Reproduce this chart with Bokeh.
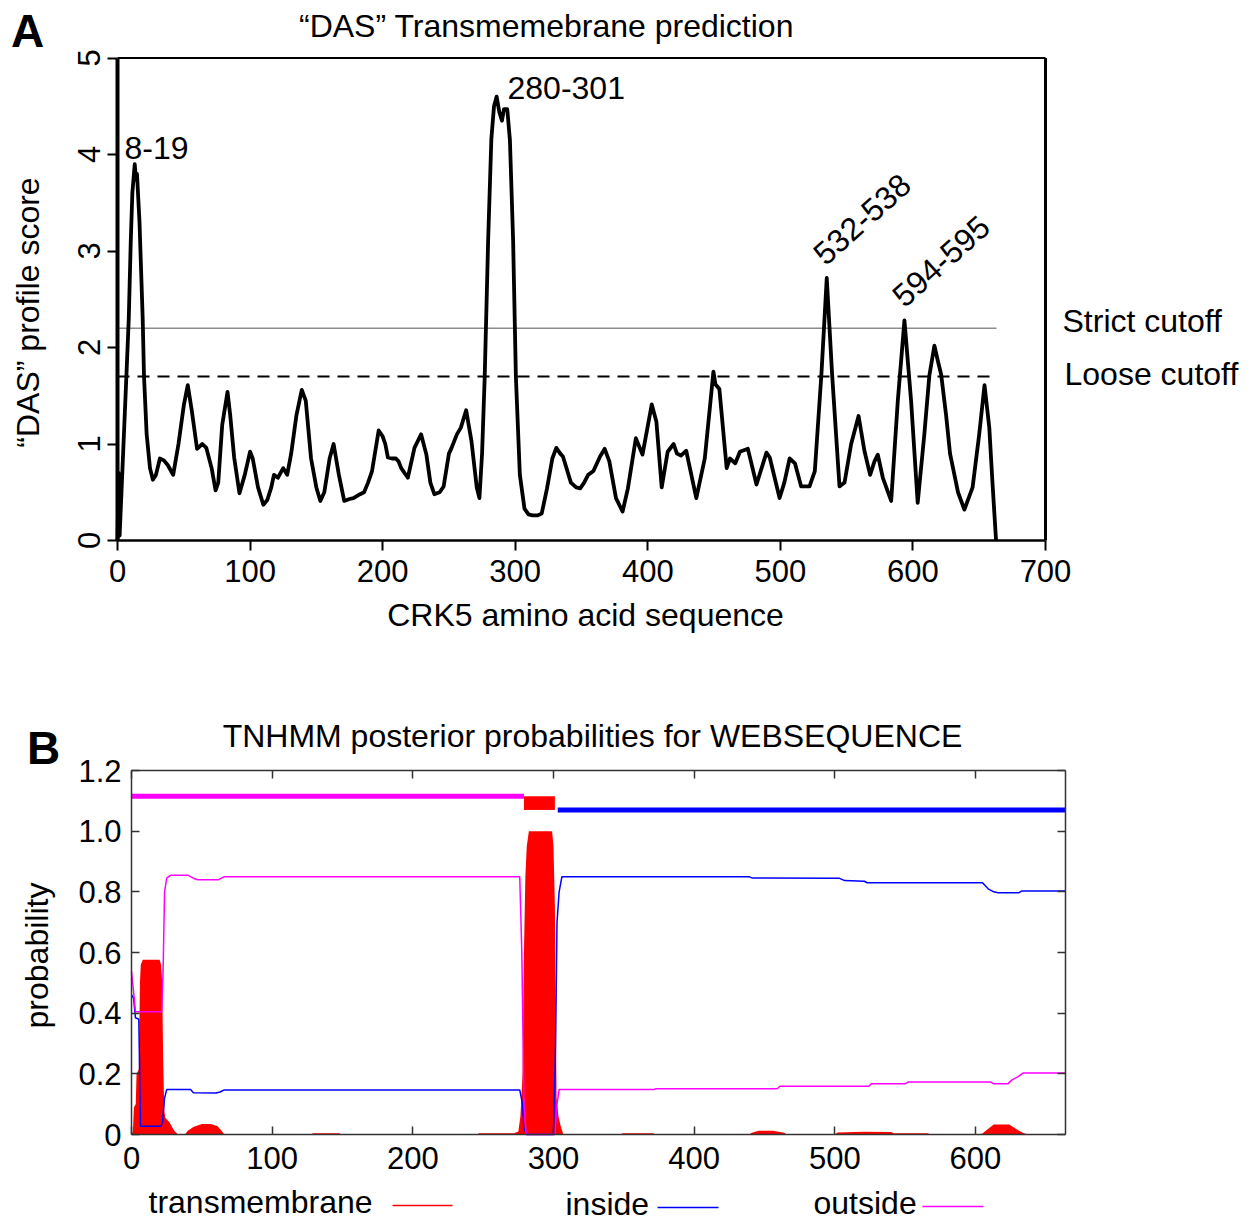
import math
from bokeh.plotting import figure
from bokeh.models import Range1d, LinearAxis, FixedTicker, Label, CustomJSTickFormatter
from bokeh.layouts import column
from bokeh.embed import file_html
from bokeh.resources import INLINE
from bokeh.core.properties import value

FONT = "Liberation Sans"
TXT = "32px"

# ---------------- Panel A data: DAS profile ----------------
das_pos = [0, 0.8, 1.6, 3, 5, 7, 8.5, 10, 11.2, 13, 13.9, 14.7, 16.6, 19, 20, 22, 24.5, 26.7,
           29, 32, 35, 38, 42, 46, 50, 53, 56, 60, 64, 67, 71, 74, 76, 79, 83, 85, 88, 92, 96,
           100, 102, 106, 110, 113, 116, 118, 121, 123, 125, 128, 131, 135, 139, 142, 146, 150,
           153, 156, 160, 163, 167, 171, 175, 178, 183, 186, 189, 192, 197, 200, 202, 204, 207,
           210, 212, 214, 219, 224, 229, 233, 236, 239, 243, 246, 250, 252, 256, 259, 263, 267,
           271, 273, 275, 277, 279.6, 282, 284, 286, 288, 290, 291.5, 294, 296, 298.4, 300.5,
           303.5, 307, 310, 313, 317, 320, 324, 328, 331, 334, 336, 342, 346, 349, 352, 355, 359,
           364, 367.5, 371, 376, 381, 385, 391, 396, 403, 406.5, 410.5, 415, 419.5, 422, 425,
           429, 431, 436.6, 443, 447, 449.5, 451, 454, 459.5, 462, 466, 469.5, 475.5, 482,
           489.5, 492, 499.4, 503, 507, 511, 515.7, 522, 526, 531, 535, 539, 544.6, 548.4,
           553.4, 559, 563.4, 567.7, 571, 573.5, 577.3, 583.6, 588.6, 593.6, 598.6, 603.6,
           608.6, 612.4, 616.2, 619, 621.3, 625, 628, 631, 634, 638.8, 645, 650, 654, 657.6,
           660, 662.7]
das_score = [0.0, 0.7, 0.05, 0.5, 1.15, 1.8, 2.3, 3.1, 3.6, 3.9, 3.74, 3.8, 3.3, 2.3, 1.7, 1.1,
             0.75, 0.63, 0.68, 0.85, 0.83, 0.78, 0.68, 1.0, 1.4, 1.61, 1.35, 0.95, 1.0, 0.96,
             0.75, 0.52, 0.6, 1.2, 1.54, 1.3, 0.86, 0.49, 0.68, 0.92, 0.85, 0.55, 0.37, 0.42,
             0.55, 0.68, 0.65, 0.7, 0.75, 0.68, 0.9, 1.3, 1.56, 1.45, 0.85, 0.55, 0.41, 0.5,
             0.85, 1.0, 0.68, 0.41, 0.43, 0.44, 0.48, 0.5, 0.6, 0.72, 1.14, 1.08, 1.0, 0.86,
             0.85, 0.85, 0.82, 0.75, 0.65, 0.96, 1.1, 0.89, 0.6, 0.48, 0.5, 0.56, 0.9, 0.96,
             1.1, 1.17, 1.35, 1.03, 0.55, 0.44, 0.9, 1.7, 3.12, 4.16, 4.5, 4.6, 4.44, 4.35,
             4.47, 4.47, 4.15, 3.12, 1.7, 0.68, 0.33, 0.27, 0.26, 0.26, 0.28, 0.54, 0.85, 0.96,
             0.9, 0.87, 0.6, 0.55, 0.54, 0.6, 0.68, 0.72, 0.87, 0.95, 0.82, 0.44, 0.3, 0.54,
             1.06, 0.89, 1.41, 1.23, 0.55, 0.92, 1.0, 0.9, 0.88, 0.93, 0.8, 0.44, 0.85, 1.4,
             1.75, 1.62, 1.57, 0.75, 0.85, 0.8, 0.92, 0.95, 0.58, 0.91, 0.86, 0.44, 0.6, 0.85,
             0.8, 0.56, 0.56, 0.72, 1.73, 2.72, 1.73, 0.56, 0.6, 1.0, 1.29, 0.93, 0.68, 0.82,
             0.89, 0.65, 0.41, 1.45, 2.28, 1.45, 0.39, 1.1, 1.71, 2.02, 1.85, 1.72, 1.3, 0.9,
             0.7, 0.5, 0.32, 0.55, 1.1, 1.61, 1.17, 0.6, 0.0]
cutoff_x = [0, 663]
strict_cutoff = 2.2
loose_cutoff = 1.7
a_xticks = [0, 100, 200, 300, 400, 500, 600, 700]
a_yticks = [0, 1, 2, 3, 4, 5]
a_ytick_labels = ["0", "1", "2", "3", "4", "5"]

# ---------------- Panel B data: TMHMM posteriors ----------------
tm_pos = [0, 1, 1.7, 3, 3.6, 5.2, 6, 6.6, 8, 20, 21, 21.8, 22.5, 23.3, 24, 27, 30, 33, 38, 40,
          44, 50, 56, 61, 64, 66, 128, 129, 148, 149, 246, 247, 272, 275, 276.5, 278, 279,
          280, 281, 282.5, 299, 300, 301, 301.6, 302.2, 303.5, 305, 307, 348, 349, 371, 372,
          439, 441, 446, 456, 464, 466, 500, 502, 520, 540, 542, 566, 568, 604, 608, 613, 624,
          630, 634, 637, 664]
tm_prob = [0.0, 0.01, 0.09, 0.1, 0.2, 0.215, 0.5, 0.56, 0.576, 0.576, 0.56, 0.5, 0.25, 0.08,
           0.055, 0.04, 0.015, 0.0, 0.0, 0.012, 0.025, 0.035, 0.035, 0.028, 0.012, 0.0, 0.0,
           0.004, 0.004, 0.0, 0.0, 0.004, 0.004, 0.01, 0.06, 0.2, 0.6, 0.85, 0.95, 1.0, 1.0,
           0.95, 0.75, 0.4, 0.12, 0.06, 0.03, 0.0, 0.0, 0.004, 0.004, 0.0, 0.0, 0.006, 0.012,
           0.012, 0.006, 0.0, 0.0, 0.007, 0.009, 0.008, 0.004, 0.004, 0.0, 0.0, 0.015, 0.033,
           0.033, 0.015, 0.005, 0.0, 0.0]
in_pos = [0, 1.5, 2.8, 5.2, 6.4, 21, 22, 23.5, 25, 42, 44, 60, 63, 66, 276, 278, 279, 281, 300,
          301.5, 302.5, 304, 306, 439, 441, 503, 507, 521, 523, 605, 609, 613, 616, 631, 633, 664]
in_prob = [0.46, 0.45, 0.385, 0.38, 0.027, 0.027, 0.04, 0.12, 0.148, 0.148, 0.138, 0.137, 0.14,
           0.147, 0.147, 0.1, 0.02, 0.0, 0.0, 0.3, 0.7, 0.8, 0.85, 0.85, 0.846, 0.845, 0.837,
           0.835, 0.83, 0.83, 0.81, 0.8, 0.797, 0.797, 0.803, 0.803]
out_pos = [0, 1.7, 2.8, 21.5, 22.5, 23.5, 25, 28, 40, 44, 47, 62, 66, 276, 277.5, 279, 280.5,
           301, 302.5, 304, 371, 373, 459, 461, 524, 526, 550, 552, 611, 613, 623, 626, 630,
           634, 664]
out_prob = [0.537, 0.46, 0.405, 0.405, 0.55, 0.8, 0.845, 0.855, 0.855, 0.845, 0.84, 0.84, 0.85,
            0.85, 0.6, 0.1, 0.0, 0.0, 0.1, 0.148, 0.148, 0.151, 0.151, 0.159, 0.159, 0.167,
            0.167, 0.173, 0.173, 0.167, 0.167, 0.18, 0.19, 0.203, 0.203]
topo_outside = [0, 279]
topo_tm = [279, 301]
topo_inside = [303, 664]
b_xticks = [0, 100, 200, 300, 400, 500, 600]
b_yticks = [0, 0.2, 0.4, 0.6, 0.8, 1.0, 1.2]
b_xmax = 664
legend_names = ["transmembrane", "inside", "outside"]

RED, BLUE, MAGENTA = "#ff0000", "#0000ff", "#ff00ff"
TOPO_OUT_Y, TOPO_IN_Y = 1.115, 1.07
W = 1253


def lab(p, x, y, text, size=TXT, align="left", baseline="middle", angle=0.0,
        style="normal"):
    p.add_layout(Label(x=x, y=y, text=text, text_font=FONT, text_font_size=size,
                       text_align=align, text_baseline=baseline, angle=angle,
                       angle_units="rad", text_font_style=style, text_color="black"))


def style_axis(ax, color, width, tick_in, tick_out, tick_w, size):
    ax.major_tick_in = tick_in
    ax.major_tick_out = tick_out
    ax.minor_tick_line_color = None
    ax.major_tick_line_width = tick_w
    ax.major_tick_line_color = color
    ax.axis_line_color = color
    ax.axis_line_width = width
    ax.major_label_text_font = FONT
    ax.major_label_text_font_size = size
    ax.major_label_text_color = "black"


# ======================= Panel A (page y 0..660) =======================
A_X0, A_SX = 117.0, 928.0 / 700.0       # page px of x=0, px per unit
A_Y0, A_SY = 540.0, 96.5                # page px of y=0, px per unit
A_H = 660
pa = figure(width=W, height=A_H,
            x_range=Range1d(-A_X0 / A_SX, (W - A_X0) / A_SX),
            y_range=Range1d((A_Y0 - A_H) / A_SY, A_Y0 / A_SY),
            output_backend="svg", toolbar_location=None, title=None,
            min_border_left=0, min_border_right=0, min_border_top=0, min_border_bottom=0)
pa.grid.visible = False
pa.outline_line_color = None
a_bottom = pa.below[0]
a_left = pa.left[0]
for ax, ticks in ((a_bottom, a_xticks), (a_left, a_yticks)):
    ax.fixed_location = 0
    ax.bounds = (ticks[0], ticks[-1])
    ax.ticker = FixedTicker(ticks=ticks)
style_axis(a_bottom, "black", 2.5, 0, 10, 2, "31px")
style_axis(a_left, "black", 4, 0, 10, 2, "31px")
a_bottom.major_label_standoff = 9
a_left.major_label_text_color = None   # rotated labels drawn centred on ticks below


def ax_(px):
    return (px - A_X0) / A_SX


def ay_(py):
    return (A_Y0 - py) / A_SY


# rotated y tick labels, centred on their ticks
pa.text(x=[ax_(88)] * len(a_yticks), y=a_yticks, text=a_ytick_labels, angle=math.pi / 2,
        text_font=value(FONT), text_font_size="31px", text_align="center",
        text_baseline="middle", text_color="black")

# frame: top and right borders
pa.line(x=[a_xticks[0], a_xticks[-1]], y=[a_yticks[-1]] * 2, line_color="black", line_width=2)
pa.line(x=[a_xticks[-1]] * 2, y=[a_yticks[0], a_yticks[-1]], line_color="black", line_width=3)

pa.line(x=cutoff_x, y=[strict_cutoff] * len(cutoff_x), line_color="#8c8c8c", line_width=1.5)
pa.line(x=cutoff_x, y=[loose_cutoff] * len(cutoff_x), line_color="black", line_width=2,
        line_dash="12 8")
pa.line(x=das_pos, y=das_score, line_color="black", line_width=3.8, line_join="round")

lab(pa, ax_(27), ay_(30), "A", size="46px", align="center", style="bold")
lab(pa, ax_(546), ay_(25), "\u201cDAS\u201d Transmemebrane prediction", align="center")
lab(pa, ax_(27), ay_(312), "\u201cDAS\u201d profile score", align="center", angle=math.pi / 2)
lab(pa, ax_(585), ay_(614), "CRK5 amino acid sequence", align="center")
lab(pa, ax_(124), ay_(147), "8-19", baseline="alphabetic")
lab(pa, ax_(507), ay_(87), "280-301", baseline="alphabetic")
lab(pa, ax_(818), ay_(258), "532-538", baseline="alphabetic", angle=0.733)
lab(pa, ax_(897), ay_(300), "594-595", baseline="alphabetic", angle=0.733)
lab(pa, ax_(1062), ay_(320), "Strict cutoff")
lab(pa, ax_(1064), ay_(373), "Loose cutoff")

# ======================= Panel B (page y 660..1220) =======================
B_TOP = 660
B_H = 1220 - B_TOP
B_X0, B_SX = 131.0, 934.0 / b_xmax
B_Y0, B_SY = 1134.0, 364.0 / 1.2
pb = figure(width=W, height=B_H,
            x_range=Range1d(-B_X0 / B_SX, (W - B_X0) / B_SX),
            y_range=Range1d((B_Y0 - (B_TOP + B_H)) / B_SY, (B_Y0 - B_TOP) / B_SY),
            output_backend="svg", toolbar_location=None, title=None,
            min_border_left=0, min_border_right=0, min_border_top=0, min_border_bottom=0)
pb.grid.visible = False
pb.outline_line_color = None

b_bottom = pb.below[0]
b_left = pb.left[0]
b_bottom.fixed_location = 0
b_left.fixed_location = 0
b_bottom.bounds = (0, b_xmax)
b_left.bounds = (b_yticks[0], b_yticks[-1])
b_bottom.ticker = FixedTicker(ticks=b_xticks)
b_left.ticker = FixedTicker(ticks=b_yticks)
b_left.formatter = CustomJSTickFormatter(code="return tick == 0 ? '0' : tick.toFixed(1);")
b_top = LinearAxis(ticker=FixedTicker(ticks=b_xticks), fixed_location=b_yticks[-1],
                   bounds=(0, b_xmax))
b_right = LinearAxis(ticker=FixedTicker(ticks=b_yticks), fixed_location=b_xmax,
                     bounds=(b_yticks[0], b_yticks[-1]))
pb.add_layout(b_top, "above")
pb.add_layout(b_right, "right")
for ax in (b_bottom, b_left, b_top, b_right):
    style_axis(ax, "#333333", 1.5, 8, 0, 1.5, "31px")
for ax in (b_top, b_right):
    ax.major_label_text_color = None
    ax.major_label_standoff = 0
b_bottom.major_label_standoff = 12
b_left.major_label_standoff = 10

pb.varea(x=tm_pos, y1=[0] * len(tm_pos), y2=tm_prob, fill_color=RED)
pb.line(x=in_pos, y=in_prob, line_color=BLUE, line_width=1.5)
pb.line(x=out_pos, y=out_prob, line_color=MAGENTA, line_width=1.5)
pb.line(x=topo_outside, y=[TOPO_OUT_Y] * 2, line_color=MAGENTA, line_width=5)
pb.quad(left=[topo_tm[0]], right=[topo_tm[1]], bottom=[TOPO_IN_Y], top=[TOPO_OUT_Y],
        fill_color=RED, line_color=None)
pb.line(x=topo_inside, y=[TOPO_IN_Y] * 2, line_color=BLUE, line_width=5)


def bx_(px):
    return (px - B_X0) / B_SX


def by_(py):
    return (B_Y0 - py) / B_SY


lab(pb, bx_(43), by_(747), "B", size="46px", align="center", style="bold")
lab(pb, bx_(592), by_(735), "TNHMM posterior probabilities for WEBSEQUENCE", align="center")
lab(pb, bx_(36), by_(955), "probability", align="center", angle=math.pi / 2)

# legend row (text followed by a line sample)
leg_text_px = [148, 565, 813]
leg_line_px = [(392, 452), (657, 718), (922, 983)]
leg_y_px = [1201, 1203, 1202]
pb.text(x=[bx_(v) for v in leg_text_px], y=[by_(v) for v in leg_y_px], text=legend_names,
        text_font=value(FONT), text_font_size=TXT, text_baseline="middle",
        text_align="left", text_color="black")
pb.segment(x0=[bx_(a) for a, b in leg_line_px], x1=[bx_(b) for a, b in leg_line_px],
           y0=[by_(v + 4) for v in leg_y_px], y1=[by_(v + 4) for v in leg_y_px],
           line_color=[RED, BLUE, MAGENTA], line_width=1.5)

layout = column(pa, pb, spacing=0)
open("out.html", "w").write(file_html(layout, INLINE))
